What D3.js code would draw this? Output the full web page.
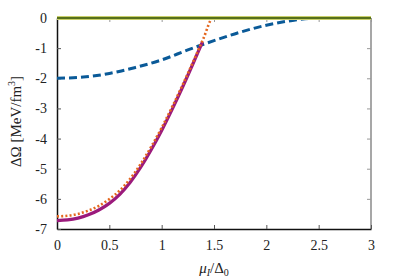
<!DOCTYPE html>
<html>
<head>
<meta charset="utf-8">
<script src="https://cdn.jsdelivr.net/npm/d3@7"></script>
<style>
  body { margin: 0; background: #fff; }
  svg text { font-family: "Liberation Serif", "DejaVu Serif", serif !important; }
</style>
</head>
<body>
<div id="chart"></div>
<script>
// values (x = mu_I / Delta_0, y = Delta Omega)
let muSolid = [0, 0.1, 0.2, 0.3, 0.4, 0.5, 0.6, 0.7, 0.8, 0.9, 1.0, 1.1, 1.2, 1.3, 1.39];
let omegaSolid = [-6.72, -6.70, -6.64, -6.53, -6.37, -6.15, -5.85, -5.45, -4.95, -4.37, -3.73, -3.03, -2.29, -1.51, -0.79];

let muDotted = [0, 0.1, 0.2, 0.3, 0.4, 0.5, 0.6, 0.7, 0.8, 0.9, 1.0, 1.1, 1.2, 1.3, 1.4, 1.49, 1.9];
let omegaDotted = [-6.58, -6.56, -6.50, -6.39, -6.23, -6.01, -5.72, -5.33, -4.84, -4.27, -3.64, -2.95, -2.22, -1.46, -0.67, 0, 0];

let muDashed = [0, 0.25, 0.5, 0.75, 1.0, 1.25, 1.5, 1.75, 2.0, 2.25, 2.5, 3.0];
let omegaDashed = [-2.0, -1.96, -1.84, -1.64, -1.39, -1.06, -0.75, -0.47, -0.24, -0.08, 0, 0];

let muFlat = [0, 3];
let omegaFlat = [0, 0];

let xTicks = [0, 0.5, 1, 1.5, 2, 2.5, 3];
let xTickLabels = ["0", "0.5", "1", "1.5", "2", "2.5", "3"];
let yTicks = [0, -1, -2, -3, -4, -5, -6, -7];
let yTickLabels = ["0", "-1", "-2", "-3", "-4", "-5", "-6", "-7"];

let margin = {top: 18, right: 28, bottom: 50, left: 57},
    width = 399 - margin.left - margin.right,
    height = 279 - margin.top - margin.bottom;

let x = d3.scaleLinear().domain([0, 3]).range([0, width]);
let y = d3.scaleLinear().domain([-7, 0]).range([height, 0]);

let svg = d3.select("#chart").append("svg")
    .attr("width", 399)
    .attr("height", 279)
  .append("g")
    .attr("transform", "translate(" + margin.left + "," + margin.top + ")");

// frame: right and top in grey, left and bottom black
svg.append("line").attr("x1", width).attr("x2", width).attr("y1", 0).attr("y2", height)
    .attr("stroke", "#8a8a8a").attr("stroke-width", 1.5);
svg.append("line").attr("x1", 0).attr("x2", width).attr("y1", 0).attr("y2", 0)
    .attr("stroke", "#8a8a8a").attr("stroke-width", 1);

// inner ticks on the top and right
svg.append("g")
    .call(d3.axisTop(x).tickValues(xTicks).tickSize(-4).tickFormat(""))
    .call(g => g.select(".domain").remove())
    .call(g => g.selectAll("line").attr("stroke", "#999"));
svg.append("g")
    .attr("transform", "translate(" + width + ",0)")
    .call(d3.axisRight(y).tickValues(yTicks).tickSize(-4).tickFormat(""))
    .call(g => g.select(".domain").remove())
    .call(g => g.selectAll("line").attr("stroke", "#999"));

// bottom axis
svg.append("g")
    .attr("transform", "translate(0," + height + ")")
    .call(d3.axisBottom(x).tickValues(xTicks).tickSizeInner(-4).tickSizeOuter(0).tickPadding(11)
        .tickFormat((d, i) => xTickLabels[i]))
    .call(g => g.select(".domain").attr("stroke", "#111").attr("stroke-width", 1.5))
    .call(g => g.selectAll("line").attr("stroke", "#555"))
    .call(g => g.selectAll("text").attr("font-size", 14).attr("fill", "#222"));

// left axis
svg.append("g")
    .call(d3.axisLeft(y).tickValues(yTicks).tickSizeInner(-4).tickSizeOuter(0).tickPadding(10)
        .tickFormat((d, i) => yTickLabels[i]))
    .call(g => g.select(".domain").attr("stroke", "#111").attr("stroke-width", 1.5))
    .call(g => g.selectAll("line").attr("stroke", "#555"))
    .call(g => g.selectAll("text").attr("font-size", 14).attr("fill", "#222"));

let line = d3.line()
    .x(d => x(d[0]))
    .y(d => y(d[1]))
    .curve(d3.curveMonotoneX);

svg.append("clipPath").attr("id", "clip")
  .append("rect").attr("x", 0).attr("y", -3).attr("width", width).attr("height", height + 3);

let plot = svg.append("g").attr("clip-path", "url(#clip)");

// dashed blue
plot.append("path")
    .datum(d3.zip(muDashed, omegaDashed))
    .attr("d", line)
    .attr("fill", "none")
    .attr("stroke", "#0a5a98")
    .attr("stroke-width", 3)
    .attr("stroke-dasharray", "8,4");

// solid purple
plot.append("path")
    .datum(d3.zip(muSolid, omegaSolid))
    .attr("d", line)
    .attr("fill", "none")
    .attr("stroke", "#9b1a7c")
    .attr("stroke-width", 3.2);

// dotted orange
plot.append("path")
    .datum(d3.zip(muDotted, omegaDotted))
    .attr("d", line)
    .attr("fill", "none")
    .attr("stroke", "#e4671e")
    .attr("stroke-width", 2.6)
    .attr("stroke-dasharray", "2,2.2");

// flat line at zero
plot.append("path")
    .datum(d3.zip(muFlat, omegaFlat))
    .attr("d", line)
    .attr("fill", "none")
    .attr("stroke", "#c9cf6a")
    .attr("stroke-width", 4);
plot.append("path")
    .datum(d3.zip(muFlat, omegaFlat))
    .attr("d", line)
    .attr("fill", "none")
    .attr("stroke", "#56701c")
    .attr("stroke-width", 2);

// axis titles
let xt = svg.append("text")
    .attr("x", width / 2)
    .attr("y", height + 44)
    .attr("text-anchor", "middle")
    .attr("font-size", 15)
    .attr("fill", "#222");
xt.append("tspan").attr("font-style", "italic").text("μ");
xt.append("tspan").attr("font-style", "italic").attr("font-size", 10).attr("dy", 3).text("I");
xt.append("tspan").attr("dy", -3).text("/Δ");
xt.append("tspan").attr("font-size", 10).attr("dy", 3).text("0");

let yt = svg.append("text")
    .attr("transform", "translate(" + (-36) + "," + (height / 2 - 2) + ") rotate(-90)")
    .attr("text-anchor", "middle")
    .attr("font-size", 15)
    .attr("fill", "#222");
yt.append("tspan").text("ΔΩ [MeV/fm");
yt.append("tspan").attr("font-size", 10).attr("dy", -6).text("3");
yt.append("tspan").attr("dy", 6).text("]");
</script>
</body>
</html>
